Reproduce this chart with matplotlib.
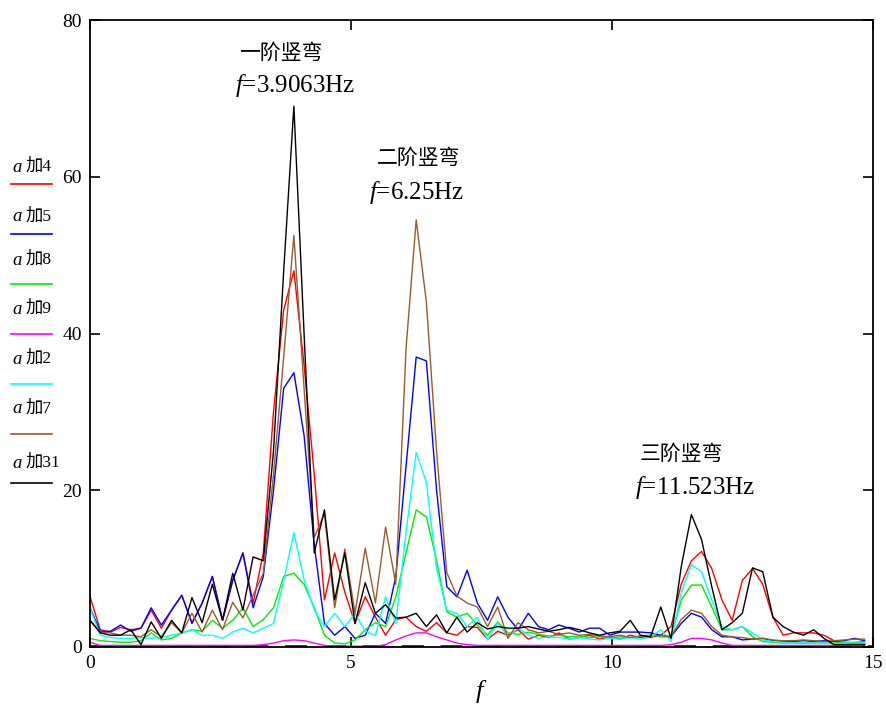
import numpy as np
import matplotlib
matplotlib.use("Agg")
import matplotlib.pyplot as plt
from matplotlib.lines import Line2D

plt.rcParams['font.family'] = ['Liberation Serif', 'Noto Sans CJK SC']
plt.rcParams['mathtext.fontset'] = 'custom'
plt.rcParams['mathtext.it'] = 'Liberation Serif:italic'
plt.rcParams['mathtext.rm'] = 'Liberation Serif'

# frequency bins (Hz), df = 0.1953125
df = 0.1953125
n_bins = 77
freq = np.arange(n_bins) * df

a4 = [6.4, 2.2, 1.9, 2.5, 2.2, 2.4, 4.7, 2.4, 4.7, 6.6,
      3.1, 5.6, 9.0, 3.4, 8.5, 12.0, 5.6, 12.0, 30.0, 43.0,
      48.0, 36.0, 22.0, 6.0, 12.0, 7.0, 3.0, 6.4, 3.8, 1.5,
      3.5, 3.8, 2.6, 2.0, 3.1, 1.8, 1.5, 2.6, 2.5, 1.0,
      2.0, 1.5, 2.2, 1.0, 1.5, 1.2, 1.8, 1.0, 1.2, 1.5,
      1.0, 1.3, 1.0, 1.5, 1.2, 1.5, 1.5, 2.6, 8.0, 11.0,
      12.2, 10.0, 6.0, 3.4, 8.5, 10.0, 8.0, 3.8, 1.5, 1.8,
      1.8, 1.8, 1.5, 0.8, 0.3, 0.5, 0.5]
a5 = [5.0, 2.0, 2.0, 2.8, 2.0, 2.4, 5.0, 2.8, 4.7, 6.6,
      3.0, 5.6, 9.0, 3.4, 8.5, 12.0, 5.0, 9.0, 20.0, 33.0,
      35.0, 27.0, 13.0, 3.0, 1.5, 2.6, 1.1, 1.5, 4.3, 3.0,
      9.0, 23.0, 37.0, 36.5, 20.0, 7.7, 6.4, 9.8, 5.6, 3.4,
      6.4, 3.8, 2.2, 4.3, 2.6, 2.2, 2.8, 2.4, 1.9, 2.4,
      2.4, 1.5, 1.9, 1.9, 1.9, 1.8, 1.5, 1.3, 3.0, 4.3,
      3.8, 2.2, 1.3, 1.3, 0.9, 1.0, 1.1, 0.8, 0.7, 0.7,
      0.8, 0.7, 0.8, 0.7, 0.8, 1.1, 0.8]
a8 = [1.1, 0.8, 0.7, 0.6, 0.6, 0.8, 1.8, 0.9, 1.1, 1.8,
      2.2, 2.0, 3.4, 2.4, 3.4, 5.0, 2.6, 3.5, 5.0, 9.0,
      9.4, 8.0, 5.0, 1.5, 0.5, 0.4, 0.9, 2.2, 3.1, 2.6,
      6.4, 12.0, 17.5, 16.6, 11.0, 4.5, 3.8, 4.3, 2.8, 1.5,
      3.2, 1.8, 1.6, 1.9, 1.6, 1.4, 1.5, 1.3, 1.4, 1.2,
      1.3, 1.1, 1.3, 1.2, 1.4, 1.5, 1.3, 1.2, 6.0, 7.9,
      7.9, 5.1, 2.2, 2.2, 2.6, 1.3, 0.7, 0.6, 0.5, 0.5,
      0.5, 0.5, 0.5, 0.5, 0.6, 0.6, 0.7]
a9 = [0.6, 0.2, 0.2, 0.2, 0.2, 0.2, 0.2, 0.2, 0.2, 0.2,
      0.2, 0.2, 0.2, 0.2, 0.2, 0.2, 0.2, 0.3, 0.5, 0.8,
      0.9, 0.8, 0.5, 0.2, 0.1, 0.1, 0.1, 0.1, 0.1, 0.3,
      0.9, 1.4, 1.8, 1.8, 1.3, 0.9, 0.5, 0.3, 0.2, 0.2,
      0.2, 0.2, 0.2, 0.2, 0.2, 0.2, 0.2, 0.2, 0.2, 0.2,
      0.2, 0.2, 0.2, 0.2, 0.2, 0.2, 0.2, 0.3, 0.6, 1.1,
      1.1, 0.9, 0.5, 0.2, 0.2, 0.2, 0.2, 0.2, 0.2, 0.2,
      0.2, 0.2, 0.2, 0.2, 0.2, 0.2, 0.2]
a2 = [5.0, 1.5, 1.2, 1.1, 1.1, 1.2, 1.1, 1.2, 1.5, 1.8,
      2.2, 1.5, 1.5, 1.1, 1.9, 2.4, 1.8, 2.4, 3.0, 8.5,
      14.6, 8.6, 4.7, 2.6, 4.3, 2.6, 4.3, 2.0, 1.5, 6.4,
      3.0, 14.6, 24.8, 21.0, 10.0, 4.7, 4.3, 2.6, 3.8, 0.9,
      3.1, 1.3, 2.4, 1.5, 1.1, 1.3, 1.2, 1.0, 1.2, 1.0,
      0.9, 1.1, 1.0, 1.2, 1.0, 1.3, 2.2, 0.7, 6.9, 10.5,
      9.6, 6.0, 2.6, 2.2, 2.6, 1.8, 0.9, 0.7, 0.6, 0.5,
      0.6, 0.5, 0.5, 0.4, 0.5, 0.5, 0.5]
a7 = [3.4, 1.9, 1.8, 1.5, 1.5, 1.3, 2.2, 1.3, 3.1, 1.8,
      4.3, 1.9, 4.7, 2.2, 5.7, 3.7, 6.6, 9.4, 22.0, 37.0,
      52.5, 33.0, 14.0, 17.0, 5.0, 12.5, 4.3, 12.6, 5.6, 15.3,
      8.0, 38.0, 54.5, 44.0, 25.0, 9.5, 6.5, 5.6, 5.1, 2.6,
      5.1, 1.1, 3.1, 2.2, 1.8, 2.0, 1.6, 1.8, 1.5, 1.6,
      1.4, 1.3, 1.5, 1.2, 1.4, 1.2, 1.5, 1.3, 3.5, 4.7,
      4.3, 2.6, 1.5, 1.3, 1.2, 1.0, 1.1, 0.9, 0.8, 0.8,
      0.9, 0.8, 0.7, 0.8, 0.9, 1.0, 1.0]
a31 = [3.4, 1.8, 1.5, 1.5, 2.2, 0.3, 3.2, 1.1, 3.4, 1.8,
       6.3, 3.1, 8.0, 3.4, 9.4, 4.7, 11.5, 11.0, 25.0, 48.0,
       69.0, 40.0, 12.0, 17.5, 6.0, 12.0, 3.0, 8.2, 4.3, 5.4,
       3.7, 3.8, 4.3, 2.6, 4.1, 1.8, 3.8, 1.9, 3.1, 2.3,
       2.6, 2.4, 2.4, 2.6, 2.3, 2.0, 2.2, 2.5, 2.2, 1.8,
       1.5, 1.8, 2.0, 3.4, 1.5, 1.3, 5.1, 1.1, 10.2, 16.9,
       13.7, 7.7, 2.2, 3.1, 4.3, 10.1, 9.6, 3.8, 2.6, 1.9,
       1.5, 2.2, 1.1, 0.3, 0.3, 0.3, 0.3]

series = [a4, a5, a8, a9, a2, a7, a31]
labels = ['加4', '加5', '加8', '加9', '加2', '加7', '加31']
colors = ['#ff0000', '#0000ff', '#00ee00', '#ff00ff', '#00ffff', '#9b5b2a', '#000000']

modes = ['一阶竖弯', '二阶竖弯', '三阶竖弯']
mode_freqs = ['3.9063', '6.25', '11.523']

fig = plt.figure(figsize=(8.87, 7.06), dpi=100)
ax = fig.add_axes([0.1015, 0.0836, 0.8825, 0.888])

ax.axhline(0.1, color='#5a005a', lw=2.0, dashes=(8, 6), zorder=1)
for y, c in zip(series, colors):
    ax.plot(freq, y, color=c, lw=1.0)

ax.set_xlim(0, 15)
ax.set_ylim(0, 80)
ax.set_xticks([0, 5, 10, 15])
ax.set_yticks([0, 20, 40, 60, 80])
ax.tick_params(direction='in', length=7, width=1.2, top=True, right=True,
               labelsize=14, pad=6)
for s in ax.spines.values():
    s.set_linewidth(1.3)
ax.set_xlabel('$f$', fontsize=19, labelpad=4)

# mode annotations
pos = [(2.86, 75.6, 2.78, 71.6), (5.5, 62.2, 5.35, 58.0), (10.53, 24.5, 10.45, 20.3)]
for (x1, y1, x2, y2), m, fr in zip(pos, modes, mode_freqs):
    ax.text(x1, y1, m, fontsize=15, ha='left', va='center')
    ax.text(x2, y2, '$f$=' + fr + 'Hz', fontsize=18, ha='left', va='center')

# legend drawn at the left margin
W, H = 887.0, 706.0
text_y = [167, 217, 260, 309, 359, 409, 463]
line_y = [184, 234, 284, 334, 384, 434, 483]
for lab, c, ty, ly in zip(labels, colors, text_y, line_y):
    fig.text(12 / W, 1 - ty / H, 'a', fontsize=13.5, style='italic',
             family='Liberation Serif', ha='left', va='center')
    fig.text(26 / W, 1 - ty / H, lab, fontsize=12.5, ha='left', va='center')
    fig.add_artist(Line2D([11 / W, 52 / W], [1 - ly / H, 1 - ly / H],
                          color=c, lw=1.2, transform=fig.transFigure))

plt.savefig('out.png', dpi=100)
